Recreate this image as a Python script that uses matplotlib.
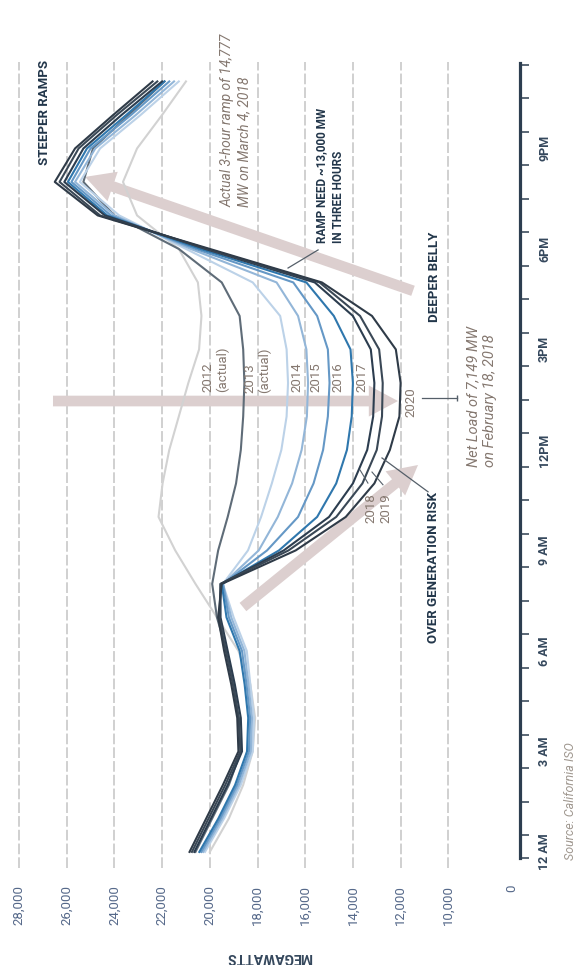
import matplotlib.pyplot as plt

# hour of day 0..23 (12 AM .. 11 PM)
hours = list(range(24))

mw_2012 = [20000, 19200, 18600, 18200, 18100, 18300, 18800, 19700, 20600, 21450, 22150, 21980,
           21700, 21300, 20900, 20450, 20350, 20500, 21300, 23050, 23640, 23050, 22000, 21000]
mw_2013 = [20600, 19900, 19200, 18700, 18800, 19000, 19300, 19700, 19900, 19650, 19250, 18900,
           18700, 18600, 18550, 18600, 18750, 19500, 21300, 24000, 25300, 24900, 23400, 21900]
mw_2014 = [20200, 19400, 18700, 18200, 18150, 18300, 18450, 19000, 19450, 18400, 17850, 17400,
           17000, 16780, 16720, 16780, 17050, 18200, 21000, 23800, 25450, 24600, 22900, 21300]
mw_2015 = [20280, 19480, 18780, 18280, 18230, 18380, 18550, 19100, 19450, 17950, 17150, 16550,
           16150, 15930, 15880, 15950, 16300, 17200, 20800, 24000, 25650, 24800, 23100, 21500]
mw_2016 = [20360, 19560, 18860, 18360, 18310, 18460, 18650, 19200, 19450, 17600, 16300, 15650,
           15250, 15050, 14980, 15050, 15500, 16500, 20600, 24150, 25800, 25000, 23300, 21700]
mw_2017 = [20440, 19640, 18940, 18440, 18390, 18540, 18750, 19300, 19500, 17100, 15500, 14700,
           14250, 14050, 14000, 14100, 14800, 15950, 20400, 24300, 25950, 25150, 23500, 21900]
mw_2018 = [20650, 19950, 19250, 18650, 18700, 18950, 19250, 19550, 19550, 16900, 15000, 14000,
           13400, 13150, 13100, 13250, 14000, 15600, 20200, 24400, 26100, 25300, 23700, 22000]
mw_2019 = [20750, 20050, 19350, 18720, 18780, 19030, 19330, 19600, 19550, 16700, 14700, 13600,
           13000, 12780, 12750, 12900, 13700, 15400, 20100, 24600, 26300, 25500, 23900, 22200]
mw_2020 = [20850, 20150, 19450, 18800, 18850, 19100, 19400, 19650, 19500, 16400, 14300, 13100,
           12450, 12050, 12000, 12200, 13200, 15300, 20000, 24700, 26500, 25650, 24050, 22400]

series = [mw_2012, mw_2013, mw_2014, mw_2015, mw_2016, mw_2017, mw_2018, mw_2019, mw_2020]
line_colors = ['#d2d2d2', '#5f6c78', '#bcd2e8', '#93b6d8', '#6598c6', '#2f77ad',
               '#2c3d4f', '#3a4856', '#2f3b48']

mw_ticks = [28000, 26000, 24000, 22000, 20000, 18000, 16000, 14000, 12000, 10000]
mw_labels = ['28,000', '26,000', '24,000', '22,000', '20,000', '18,000', '16,000',
             '14,000', '12,000', '10,000']
hour_ticks = [0, 3, 6, 9, 12, 15, 18, 21]
hour_labels = ['12 AM', '3 AM', '6 AM', '9 AM', '12PM', '3PM', '6PM', '9PM']

COND = ['Roboto', 'DejaVu Sans']
NAVY = '#22364a'
TAUPE = '#857870'
ARROW = '#dccfcf'

fig = plt.figure(figsize=(5.84, 9.65), dpi=100)
ax = fig.add_axes([0, 97 / 965, 520 / 584, 806 / 965])
ax.set_xlim(28797, 6994)
ax.set_ylim(-0.48, 23.58)

for v in mw_ticks:
    ax.axvline(v, color='#c4c4c4', lw=1.1, ls=(0, (7, 2)), zorder=0)

# background arrows
arrow_style = 'simple,head_length=1.5,head_width=1.6,tail_width=0.55'
for tail, tip in [((11480, 16.75), (25230, 20.15)),
                  ((26575, 13.46), (12110, 13.46)),
                  ((18610, 7.31), (11270, 11.55))]:
    ax.annotate('', xy=tip, xytext=tail,
                arrowprops=dict(arrowstyle=arrow_style, fc=ARROW, ec='none',
                                mutation_scale=14, shrinkA=0, shrinkB=0),
                zorder=1)

for i, mw in enumerate(series):
    ax.plot(mw, hours, color=line_colors[i], lw=1.5, zorder=2 + i)

# axes styling
for s in ['top', 'left', 'bottom']:
    ax.spines[s].set_visible(False)
ax.spines['right'].set_color('#2d3e50')
ax.spines['right'].set_linewidth(2.3)
ax.spines['right'].set_bounds(-0.18, 23.55)

ax.set_xticks(mw_ticks + [7329])
ax.set_xticklabels(mw_labels + ['0'], rotation=90, fontsize=9.5, color='#56698a',
                   family=COND)
ax.tick_params(axis='x', length=0, pad=12)

ax.yaxis.tick_right()
ax.set_yticks(hour_ticks)
ax.set_yticklabels(hour_labels, rotation=90, fontsize=9, fontweight='bold',
                   color='#34475c', family=COND, va='center')
ax.set_yticks([k + 0.5 for k in range(24)] + [-0.18], minor=True)
ax.tick_params(axis='y', which='major', length=0, pad=13)
ax.tick_params(axis='y', which='minor', length=6.5, width=1.1, color='#2d3e50')

fig.text(269 / 584, 1 - 957 / 965, 'MEGAWATTS', rotation=180, ha='center', va='center',
         fontsize=10, fontweight='bold', color='#34475c', family=COND)
fig.text(570 / 584, 1 - 860 / 965, 'Source: California ISO', rotation=90, ha='center',
         va='bottom', fontsize=9, style='italic', color='#a09890', family=COND)

# annotations
ax.text(26950, 20.5, 'STEEPER RAMPS', rotation=90, ha='center', va='bottom',
        fontsize=9.5, fontweight='bold', color=NAVY, family=COND)
ax.text(18900, 19.25, 'Actual 3-hour ramp of 14,777\nMW on March 4, 2018', rotation=90,
        ha='center', va='bottom', multialignment='left', fontsize=10, style='italic',
        color=TAUPE, family=COND, linespacing=1.25)
ax.text(14960, 18.18, 'RAMP NEED ~13,000 MW\nIN THREE HOURS', rotation=90, ha='center',
        va='bottom', multialignment='left', fontsize=8.5, fontweight='bold', color=NAVY,
        family=COND, linespacing=1.4)
ax.plot([15460, 16720], [17.97, 17.43], color='#555f69', lw=0.9, zorder=12)
ax.text(10560, 15.82, 'DEEPER BELLY', rotation=90, ha='center', va='bottom',
        fontsize=9.5, fontweight='bold', color=NAVY, family=COND)
ax.text(10640, 6.24, 'OVER GENERATION RISK', rotation=90, ha='center', va='bottom',
        fontsize=9.5, fontweight='bold', color=NAVY, family=COND)
ax.plot([10850, 12780], [10.75, 11.76], color='#555f69', lw=0.9, zorder=12)
ax.text(8587, 11.49, 'Net Load of 7,149 MW\non February 18, 2018', rotation=90,
        ha='center', va='bottom', multialignment='left', fontsize=10.5, style='italic',
        color=TAUPE, family=COND, linespacing=1.25)
ax.plot([11100, 9640], [13.55, 13.55], color='#555f69', lw=0.9, zorder=12)
ax.plot([9640], [13.55], marker='|', ms=5, color='#555f69', zorder=12)

year_text = [('2012\n(actual)', 19780, 13.73), ('2013\n(actual)', 18020, 13.70),
             ('2014', 16340, 13.73), ('2015', 15550, 13.73), ('2016', 14620, 13.73),
             ('2017', 13620, 13.73), ('2020', 11560, 12.99),
             ('2018', 13240, 9.82), ('2019', 12610, 9.82)]
for label, x, y in year_text:
    ax.text(x, y, label, rotation=90, ha='center', va='bottom', multialignment='left',
            fontsize=9.5, color=TAUPE, family=COND, linespacing=1.15, zorder=13)
ax.plot([13370, 13700], [11.01, 11.40], color='#555f69', lw=0.8, zorder=12)
ax.plot([12740, 13200], [10.96, 11.34], color='#555f69', lw=0.8, zorder=12)

plt.savefig('out.png', dpi=100)
